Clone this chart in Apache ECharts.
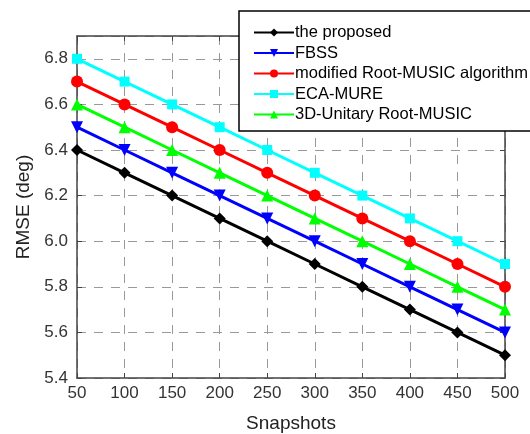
<!DOCTYPE html>
<html>
<head>
<meta charset="utf-8">
<script src="https://cdn.jsdelivr.net/npm/echarts@6/dist/echarts.min.js"></script>
<style>
  html, body { margin: 0; padding: 0; background: #fff; }
  #chart { width: 530px; height: 434px; }
</style>
</head>
<body>
<div id="chart"></div>
<script>
// snapshots on the x axis
const snapshots = [50, 100, 150, 200, 250, 300, 350, 400, 450, 500];

// RMSE (deg) per method
const proposed = [6.4, 6.3, 6.2, 6.1, 6.0, 5.9, 5.8, 5.7, 5.6, 5.5];
const fbss = [6.5, 6.4, 6.3, 6.2, 6.1, 6.0, 5.9, 5.8, 5.7, 5.6];
const modifiedRootMusic = [6.7, 6.6, 6.5, 6.4, 6.3, 6.2, 6.1, 6.0, 5.9, 5.8];
const ecaMure = [6.8, 6.7, 6.6, 6.5, 6.4, 6.3, 6.2, 6.1, 6.0, 5.9];
const unitary3D = [6.6, 6.5, 6.4, 6.3, 6.2, 6.1, 6.0, 5.9, 5.8, 5.7];

const seriesNames = [
  "the proposed",
  "FBSS",
  "modified Root-MUSIC algorithm",
  "ECA-MURE",
  "3D-Unitary Root-MUSIC"
];

const font = "Liberation Sans, Arial, sans-serif";
const axisColor = "#444";
const gridLine = { color: "#999", type: [9, 8], width: 1 };

function pairs(ys) {
  return snapshots.map((x, i) => [x, ys[i]]);
}

function line(name, ys, color, symbol, rotate) {
  return {
    name: name,
    type: "line",
    data: pairs(ys),
    symbol: symbol,
    symbolSize: symbol == "rect" ? 10 : 12,
    symbolRotate: rotate || 0,
    color: color,
    lineStyle: { color: color, width: 3 },
    itemStyle: { color: color },
    z: 3
  };
}

let myChart = echarts.init(document.getElementById("chart"));

myChart.setOption({
  backgroundColor: "#fff",
  animation: false,
  textStyle: { fontFamily: font },
  grid: { left: 77, right: 25, top: 36, bottom: 56, containLabel: false, outerBoundsMode: "none" },
  legend: {
    orient: "vertical",
    left: 239,
    top: 11,
    data: seriesNames,
    backgroundColor: "#fff",
    borderColor: "#000",
    borderWidth: 1.5,
    borderRadius: 0,
    padding: [13, 40, 8, 14],
    itemWidth: 40,
    itemHeight: 10,
    itemGap: 3.5,
    symbolRotate: "inherit",
    textStyle: { fontSize: 16.5, color: "#000", fontFamily: font, padding: [0, 0, 0, -4], lineHeight: 16 },
    z: 10
  },
  xAxis: [
    {
      type: "value",
      min: 50,
      max: 500,
      interval: 50,
      name: "Snapshots",
      nameLocation: "middle",
      nameGap: 36,
      nameTextStyle: { fontSize: 19, color: "#222" },
      axisLine: { lineStyle: { color: axisColor, width: 1.5 } },
      axisTick: { inside: true, length: 5, lineStyle: { color: axisColor } },
      axisLabel: { fontSize: 17, color: "#333", margin: 7 },
      splitLine: { show: true, lineStyle: gridLine }
    },
    {
      type: "value",
      position: "top",
      min: 50,
      max: 500,
      interval: 50,
      axisLine: { show: true, lineStyle: { color: axisColor, width: 1.5 } },
      axisTick: { show: true, inside: true, length: 5, lineStyle: { color: axisColor } },
      axisLabel: { show: false },
      splitLine: { show: false }
    }
  ],
  yAxis: [
    {
      type: "value",
      min: 5.4,
      max: 6.9,
      interval: 0.2,
      name: "RMSE (deg)",
      nameLocation: "middle",
      nameGap: 41,
      nameTextStyle: { fontSize: 19, color: "#222" },
      axisLine: { show: true, lineStyle: { color: axisColor, width: 1.5 } },
      axisTick: { show: true, inside: true, length: 5, lineStyle: { color: axisColor } },
      axisLabel: {
        fontSize: 17,
        color: "#333",
        margin: 9,
        showMaxLabel: false,
        formatter: v => v.toFixed(1)
      },
      splitLine: { show: true, lineStyle: gridLine }
    },
    {
      type: "value",
      position: "right",
      min: 5.4,
      max: 6.9,
      interval: 0.2,
      axisLine: { show: true, lineStyle: { color: axisColor, width: 1.5 } },
      axisTick: { show: true, inside: true, length: 5, lineStyle: { color: axisColor } },
      axisLabel: { show: false },
      splitLine: { show: false }
    }
  ],
  series: [
    line(seriesNames[0], proposed, "#000000", "diamond"),
    line(seriesNames[1], fbss, "#0000ff", "triangle", 180),
    line(seriesNames[2], modifiedRootMusic, "#ff0000", "circle"),
    line(seriesNames[3], ecaMure, "#00ffff", "rect"),
    line(seriesNames[4], unitary3D, "#00ff00", "triangle")
  ]
});
</script>
</body>
</html>
